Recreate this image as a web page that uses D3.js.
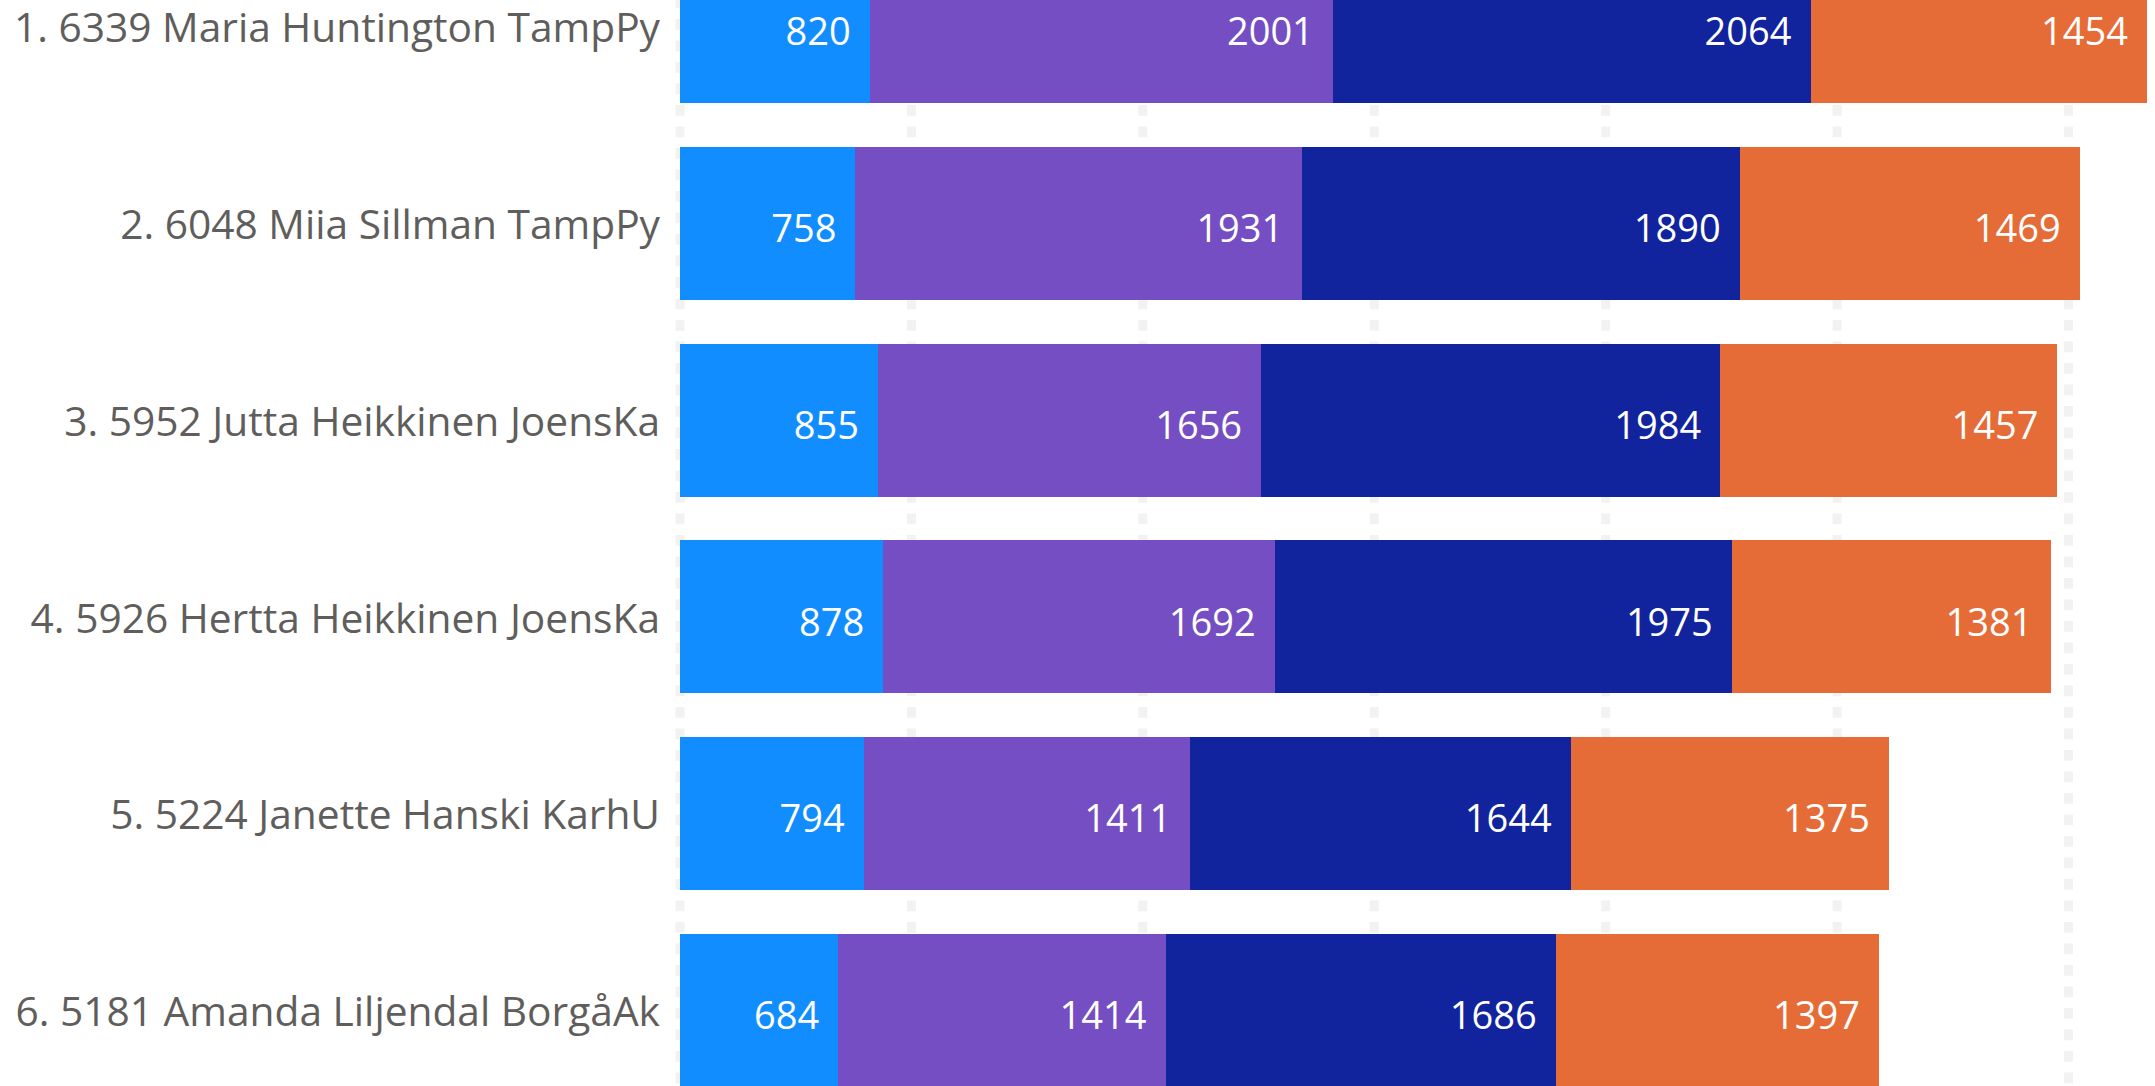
<!DOCTYPE html>
<html>
<head>
<meta charset="utf-8">
<script src="https://cdn.jsdelivr.net/npm/d3@7"></script>
<style>
  html, body { margin: 0; padding: 0; background: #fff; overflow: hidden; }
  .label { font-family: "Open Sans", "Noto Sans", sans-serif; fill: #605e5c; }
  .value { font-family: "Open Sans", "Noto Sans", sans-serif; fill: #fff; }
</style>
</head>
<body>
<div id="canvas"></div>
<script>
// athletes, top 6 by total
var athletes = [
    "1. 6339 Maria Huntington TampPy",
    "2. 6048 Miia Sillman TampPy",
    "3. 5952 Jutta Heikkinen JoensKa",
    "4. 5926 Hertta Heikkinen JoensKa",
    "5. 5224 Janette Hanski KarhU",
    "6. 5181 Amanda Liljendal BorgåAk"
];
var series = ["s1", "s2", "s3", "s4"];
var s1 = [820, 758, 855, 878, 794, 684];
var s2 = [2001, 1931, 1656, 1692, 1411, 1414];
var s3 = [2064, 1890, 1984, 1975, 1644, 1686];
var s4 = [1454, 1469, 1457, 1381, 1375, 1397];
var gridTicks = [0, 1000, 2000, 3000, 4000, 5000, 6000];

var colors = ["#118dff", "#744ec2", "#12239e", "#e66c37"];

var width = 2155, height = 1086;

var rows = athletes.map(function(name, i) {
    return { name: name, s1: s1[i], s2: s2[i], s3: s3[i], s4: s4[i] };
});

var stacked = d3.stack().keys(series)(rows);
var maxTotal = d3.max(rows, function(d) { return d.s1 + d.s2 + d.s3 + d.s4; });

var x = d3.scaleLinear()
    .domain([0, maxTotal])
    .range([680, 2147]);

var y = d3.scaleBand()
    .domain(athletes)
    .range([-71.75, 1108.75])
    .paddingInner(0.2236)
    .paddingOuter(0.1118);

var svg = d3.select("#canvas").append("svg")
    .attr("width", width)
    .attr("height", height);

// dashed gridlines behind the bars
svg.append("g")
    .selectAll("line")
    .data(gridTicks)
  .enter().append("line")
    .attr("x1", function(d) { return x(d); })
    .attr("x2", function(d) { return x(d); })
    .attr("y1", -2.5)
    .attr("y2", height)
    .attr("stroke", "#f3f2f1")
    .attr("stroke-width", 9)
    .attr("stroke-dasharray", "10.75,10.75");

var layer = svg.selectAll("g.layer")
    .data(stacked)
  .enter().append("g")
    .attr("class", "layer")
    .attr("fill", function(d, i) { return colors[i]; });

layer.selectAll("rect")
    .data(function(d) { return d; })
  .enter().append("rect")
    .attr("x", function(d) { return x(d[0]); })
    .attr("width", function(d) { return x(d[1]) - x(d[0]); })
    .attr("y", function(d) { return y(d.data.name); })
    .attr("height", y.bandwidth())
    .attr("shape-rendering", "crispEdges");

layer.selectAll("text")
    .data(function(d) { return d; })
  .enter().append("text")
    .attr("class", "value")
    .attr("x", function(d) { return x(d[1]) - 19; })
    .attr("y", function(d) { return y(d.data.name) + y.bandwidth() / 2 + 5; })
    .attr("dy", "0.36em")
    .attr("text-anchor", "end")
    .style("font-size", "38px")
    .text(function(d) { return d[1] - d[0]; });

// category labels on the left
svg.append("g")
    .selectAll("text")
    .data(athletes)
  .enter().append("text")
    .attr("class", "label")
    .attr("x", 660)
    .attr("y", function(d) { return y(d) + y.bandwidth() / 2 + 1; })
    .attr("dy", "0.36em")
    .attr("text-anchor", "end")
    .style("font-size", "40.7px")
    .text(function(d) { return d; });
</script>
</body>
</html>
